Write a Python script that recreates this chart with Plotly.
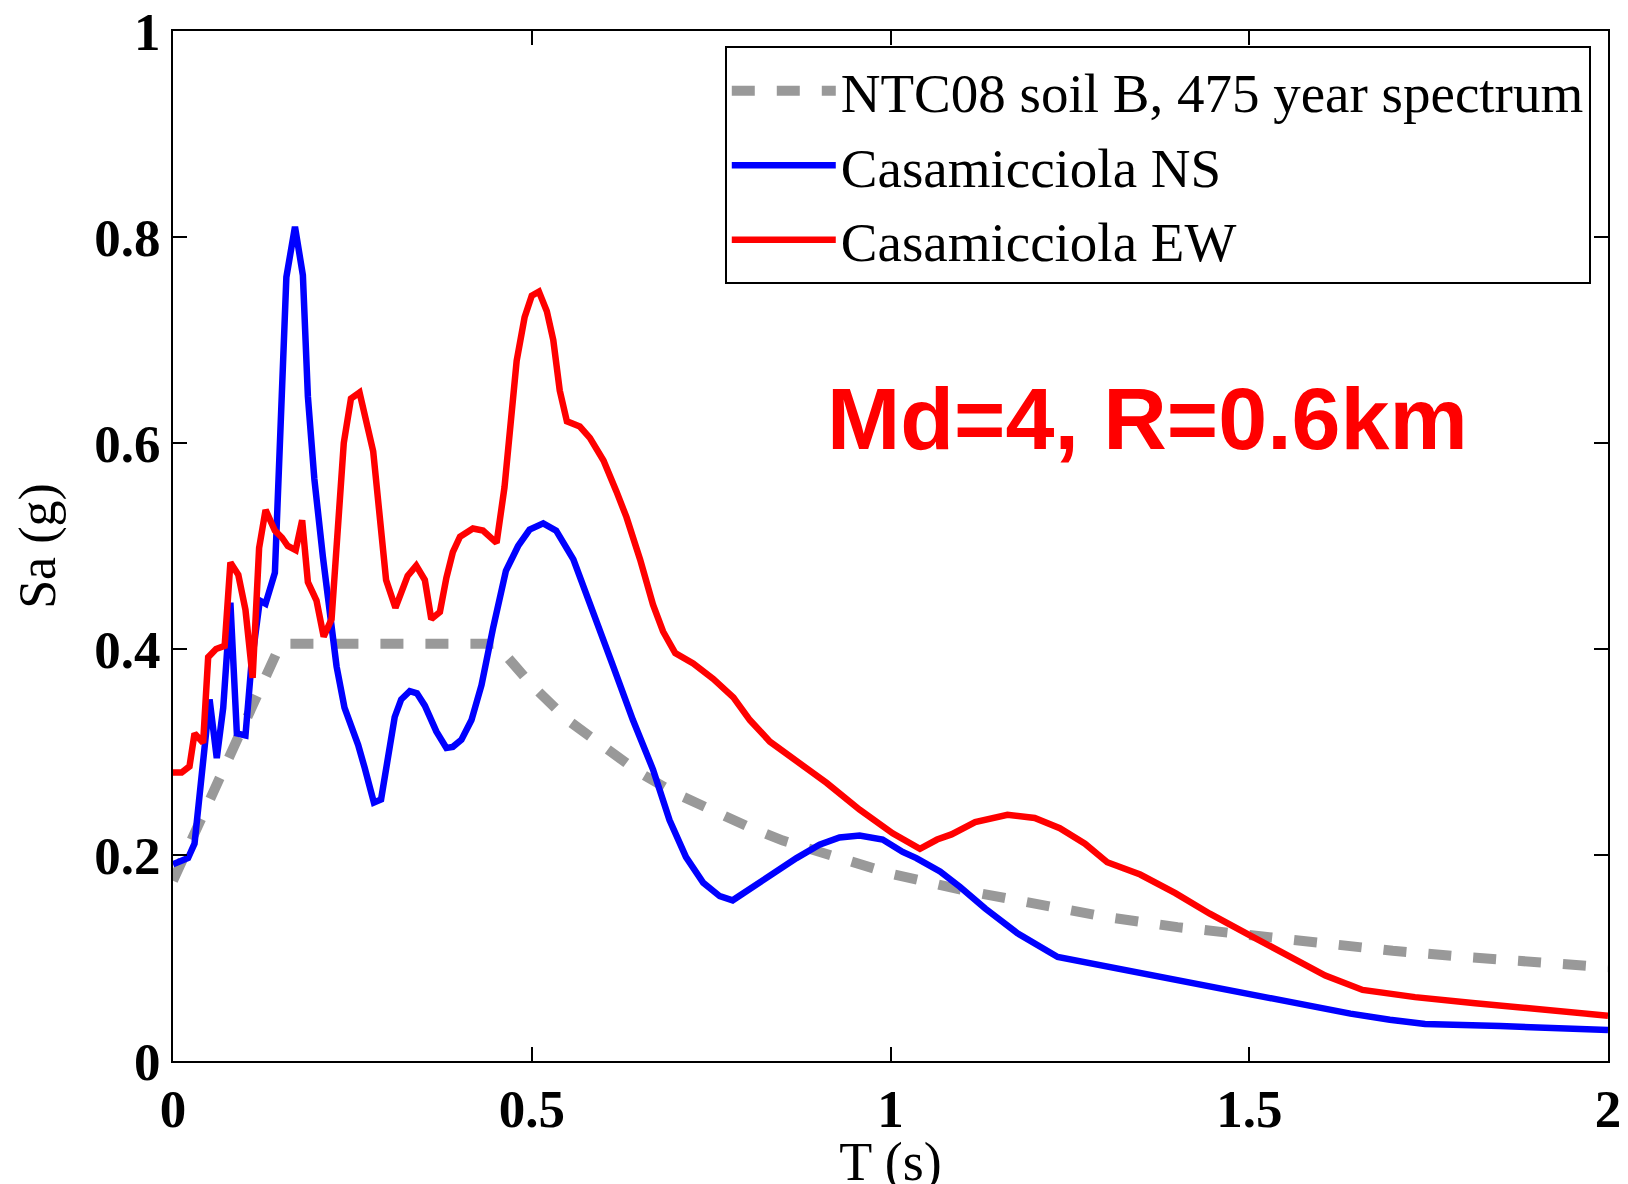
import plotly.graph_objects as go

# ---------------- data ----------------
T_ntc = [0.0, 0.15, 0.45, 0.50, 0.55, 0.60, 0.65, 0.70, 0.75, 0.80, 0.85, 0.90, 0.95, 1.00,
         1.10, 1.20, 1.30, 1.40, 1.50, 1.60, 1.70, 1.80, 1.90, 2.00]
sa_ntc = [0.175, 0.405, 0.405, 0.365, 0.331, 0.304, 0.280, 0.260, 0.243, 0.228, 0.214, 0.203,
          0.192, 0.182, 0.166, 0.152, 0.140, 0.130, 0.122, 0.114, 0.107, 0.101, 0.096, 0.091]

T_ns = [0.000, 0.021, 0.030, 0.051, 0.061, 0.070, 0.080, 0.089, 0.101, 0.109, 0.121, 0.129,
        0.142, 0.158, 0.170, 0.181, 0.188, 0.197, 0.209, 0.218, 0.228, 0.239, 0.258, 0.267,
        0.280, 0.290, 0.300, 0.309, 0.318, 0.330, 0.340, 0.351, 0.367, 0.381, 0.390, 0.402,
        0.416, 0.430, 0.446, 0.464, 0.481, 0.497, 0.516, 0.534, 0.558, 0.586, 0.613, 0.641,
        0.669, 0.692, 0.715, 0.739, 0.762, 0.780, 0.808, 0.836, 0.869, 0.901, 0.929, 0.957,
        0.989, 1.017, 1.036, 1.069, 1.097, 1.132, 1.177, 1.233, 1.292, 1.362, 1.432, 1.501,
        1.571, 1.641, 1.696, 1.745, 1.850, 2.000]
sa_ns = [0.191, 0.197, 0.211, 0.351, 0.294, 0.343, 0.445, 0.318, 0.316, 0.383, 0.447, 0.444,
         0.474, 0.761, 0.810, 0.763, 0.645, 0.565, 0.489, 0.432, 0.383, 0.343, 0.307, 0.285,
         0.251, 0.254, 0.298, 0.334, 0.351, 0.359, 0.357, 0.345, 0.320, 0.304, 0.305, 0.312,
         0.331, 0.365, 0.420, 0.476, 0.500, 0.516, 0.522, 0.515, 0.487, 0.436, 0.384, 0.331,
         0.283, 0.234, 0.198, 0.173, 0.160, 0.156, 0.169, 0.182, 0.197, 0.210, 0.217, 0.219,
         0.215, 0.203, 0.197, 0.184, 0.169, 0.148, 0.124, 0.101, 0.093, 0.083, 0.074, 0.064,
         0.054, 0.046, 0.040, 0.036, 0.034, 0.030]

T_ew = [0.000, 0.012, 0.023, 0.030, 0.042, 0.049, 0.060, 0.072, 0.080, 0.091, 0.101, 0.111,
        0.120, 0.129, 0.142, 0.152, 0.160, 0.171, 0.180, 0.188, 0.200, 0.210, 0.221, 0.230,
        0.238, 0.248, 0.260, 0.279, 0.288, 0.297, 0.310, 0.327, 0.339, 0.351, 0.360, 0.372,
        0.381, 0.390, 0.400, 0.418, 0.432, 0.451, 0.462, 0.479, 0.490, 0.500, 0.510, 0.521,
        0.530, 0.539, 0.549, 0.567, 0.581, 0.600, 0.618, 0.632, 0.651, 0.669, 0.683, 0.700,
        0.725, 0.753, 0.781, 0.804, 0.832, 0.864, 0.911, 0.957, 1.003, 1.041, 1.065, 1.085,
        1.118, 1.163, 1.201, 1.236, 1.271, 1.302, 1.348, 1.397, 1.445, 1.501, 1.557, 1.606,
        1.658, 1.731, 1.815, 1.920, 2.000]
sa_ew = [0.280, 0.280, 0.286, 0.318, 0.309, 0.392, 0.400, 0.403, 0.484, 0.472, 0.438, 0.372,
         0.498, 0.535, 0.515, 0.508, 0.500, 0.496, 0.525, 0.465, 0.447, 0.412, 0.429, 0.516,
         0.600, 0.643, 0.649, 0.592, 0.527, 0.467, 0.440, 0.471, 0.481, 0.467, 0.429, 0.436,
         0.469, 0.494, 0.509, 0.517, 0.515, 0.503, 0.557, 0.680, 0.722, 0.743, 0.747, 0.728,
         0.700, 0.651, 0.621, 0.616, 0.605, 0.583, 0.553, 0.528, 0.487, 0.443, 0.417, 0.396,
         0.386, 0.371, 0.353, 0.331, 0.310, 0.294, 0.270, 0.244, 0.221, 0.206, 0.215, 0.220,
         0.232, 0.239, 0.236, 0.226, 0.211, 0.193, 0.181, 0.163, 0.143, 0.122, 0.101, 0.083,
         0.069, 0.062, 0.056, 0.049, 0.044]

x_ticks = [0, 0.5, 1, 1.5, 2]
x_tick_labels = ["0", "0.5", "1", "1.5", "2"]
y_ticks = [0, 0.2, 0.4, 0.6, 0.8, 1]
y_tick_labels = ["0", "0.2", "0.4", "0.6", "0.8", "1"]

names = ["NTC08 soil B, 475 year spectrum", "Casamicciola NS", "Casamicciola EW"]
annotation_text = "Md=4, R=0.6km"

# ---------------- figure ----------------
SERIF = "Liberation Serif, Times New Roman, serif"

fig = go.Figure()
fig.add_trace(go.Scatter(x=T_ntc, y=sa_ntc, mode="lines", name=names[0],
                         line=dict(color="#999999", width=10, dash="23px,22px")))
fig.add_trace(go.Scatter(x=T_ns, y=sa_ns, mode="lines", name=names[1],
                         line=dict(color="#0000FF", width=6.5)))
fig.add_trace(go.Scatter(x=T_ew, y=sa_ew, mode="lines", name=names[2],
                         line=dict(color="#FF0000", width=6.5)))

axis_common = dict(
    showline=True, linecolor="black", linewidth=2, mirror="ticks",
    ticks="inside", ticklen=14, tickwidth=1.5, tickcolor="black",
    showgrid=False, zeroline=False, automargin=False,
    ticklabeloverflow="allow",
    tickfont=dict(family=SERIF, size=53, color="black", weight="bold"),
)

# the page body adds an 8 px margin on the left/top
fig.update_layout(
    width=1620, height=1184, autosize=False,
    paper_bgcolor="white", plot_bgcolor="white",
    margin=dict(l=165, r=20, t=23, b=131),
    xaxis=dict(range=[0, 2], tickvals=x_ticks, ticktext=x_tick_labels,
               title=dict(text="T (s)", font=dict(family=SERIF, size=54, color="black"),
                          standoff=4),
               **axis_common),
    yaxis=dict(range=[0, 1], tickvals=y_ticks, ticktext=y_tick_labels,
               title=dict(text="Sa (g)", font=dict(family=SERIF, size=52, color="black"),
                          standoff=22),
               **axis_common),
    legend=dict(x=0.988, y=0.985, xanchor="right", yanchor="top",
                bgcolor="white", bordercolor="black", borderwidth=2,
                font=dict(family=SERIF, size=55, color="black"),
                itemwidth=104, tracegroupgap=0),
    showlegend=True,
    annotations=[dict(text=annotation_text, xref="paper", yref="paper",
                      x=0.679, y=0.624, xanchor="center", yanchor="middle",
                      showarrow=False,
                      font=dict(family="Liberation Sans, Arial, sans-serif", size=88,
                                color="#FF0000", weight="bold"))],
)

fig.write_html("out.html")
